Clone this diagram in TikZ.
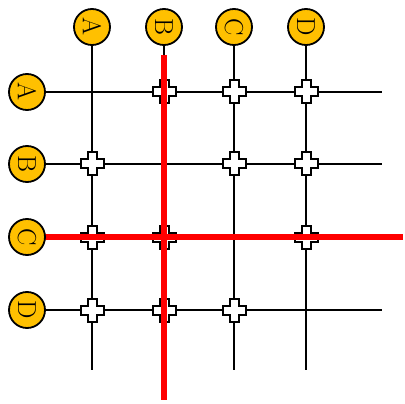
\documentclass[tikz,border=0pt]{standalone}
\definecolor{gold}{RGB}{255,192,0}
\definecolor{redl}{RGB}{255,0,0}
\pgfdeclarelayer{bg}
\pgfdeclarelayer{mid}
\pgfdeclarelayer{top}
\pgfsetlayers{bg,mid,top,main}
\tikzset{
  lbl/.style={circle, draw=black, line width=1.8pt, fill=gold, minimum size=36pt,
    inner sep=0pt, font=\fontsize{26}{26}\selectfont, rotate=-90},
  gridline/.style={line width=2pt, black},
  redline/.style={line width=6pt, redl},
  crossmark/.style={fill=white, draw=black, line width=2pt}
}
\newcommand\xcross[1]{%
  \path[crossmark] (#1) ++(-4.5,-11.5) -- ++(9,0) -- ++(0,7) -- ++(7,0) -- ++(0,9)
    -- ++(-7,0) -- ++(0,7) -- ++(-9,0) -- ++(0,-7) -- ++(-7,0) -- ++(0,-9)
    -- ++(7,0) -- cycle;}
\begin{document}
\begin{tikzpicture}[x=1pt,y=-1pt]
\useasboundingbox (0,0) rectangle (405,404);
% top labels
\node[lbl] (tA) at (92,27) {A};
\node[lbl] (tB) at (164,27) {B};
\node[lbl] (tC) at (234,27) {C};
\node[lbl] (tD) at (306,27) {D};
% left labels
\node[lbl] (lA) at (27,92) {A};
\node[lbl] (lB) at (27,164) {B};
\node[lbl] (lC) at (27,237) {C};
\node[lbl] (lD) at (27,310) {D};
\coordinate (vend) at (0,370);
\coordinate (hend) at (382,0);
\begin{pgfonlayer}{bg}
  \foreach \c in {tA,tB,tC,tD} \draw[gridline] (\c.center) -- (\c |- vend);
  \foreach \r in {lA,lB,lC,lD} \draw[gridline] (\r.center) -- (\r -| hend);
\end{pgfonlayer}
\begin{pgfonlayer}{mid}
  \xcross{tB |- lA}\xcross{tC |- lA}\xcross{tD |- lA}
  \xcross{tA |- lB}\xcross{tC |- lB}\xcross{tD |- lB}
  \xcross{tA |- lC}\xcross{tB |- lC}\xcross{tD |- lC}
  \xcross{tA |- lD}\xcross{tB |- lD}\xcross{tC |- lD}
\end{pgfonlayer}
\coordinate (rtop) at (0,55);
\coordinate (rbot) at (0,400);
\coordinate (rend) at (403,0);
\begin{pgfonlayer}{top}
  \draw[redline] (tB |- rtop) -- (tB |- rbot);
  \draw[redline] (lC.center) -- (lC -| rend);
\end{pgfonlayer}
\end{tikzpicture}
\end{document}
